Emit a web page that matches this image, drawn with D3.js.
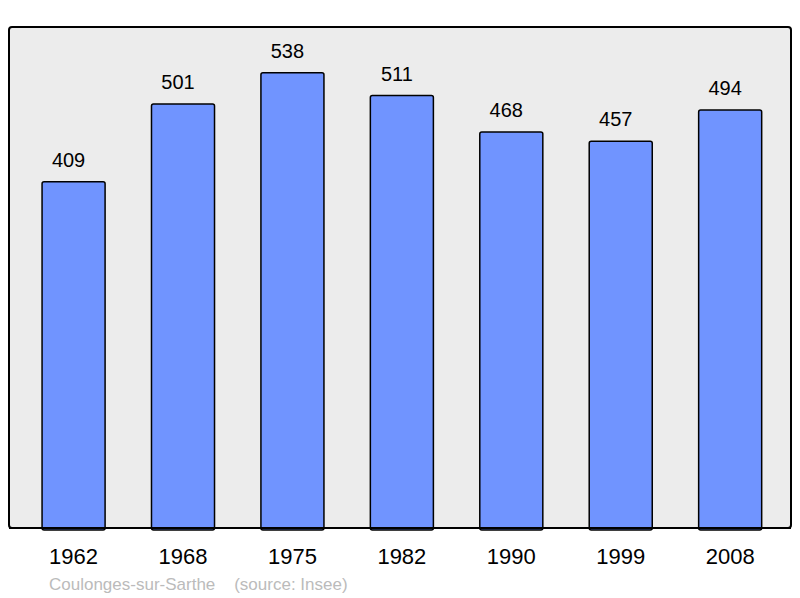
<!DOCTYPE html>
<html>
<head>
<meta charset="utf-8">
<script src="https://cdn.jsdelivr.net/npm/d3@7"></script>
<style>
  body { margin: 0; background: #fff; }
  text { font-family: "Liberation Sans", Arial, sans-serif; }
</style>
</head>
<body>
<script>
// Population data
var years = ["1962", "1968", "1975", "1982", "1990", "1999", "2008"];
var population = [409, 501, 538, 511, 468, 457, 494];
var commune = "Coulonges-sur-Sarthe";
var source = "(source: Insee)";

var width = 800, height = 598;
var frame = {left: 9, top: 27, right: 791, bottom: 528};

var svg = d3.select("body")
    .append("svg")
        .attr("width", width)
        .attr("height", height);

// Plot background / frame
svg.append("rect")
    .attr("x", frame.left)
    .attr("y", frame.top)
    .attr("width", frame.right - frame.left)
    .attr("height", frame.bottom - frame.top)
    .attr("rx", 3)
    .attr("fill", "#ececec")
    .attr("stroke", "#000")
    .attr("stroke-width", 2);

// Set the ranges
var xScale = d3.scaleBand()
    .domain(years)
    .range([frame.left, frame.right])
    .paddingInner(0.424)
    .paddingOuter(0.285)
    .align(0.53);

var yScale = d3.scaleLinear()
    .domain([0, 592])
    .range([frame.bottom, frame.top]);

var data = years.map(function (y, i) { return {year: y, value: population[i]}; });

// Bars
svg.selectAll(".bar")
    .data(data)
    .enter().append("rect")
    .attr("class", "bar")
    .attr("x", function (d) { return xScale(d.year); })
    .attr("y", function (d) { return yScale(d.value); })
    .attr("width", xScale.bandwidth())
    .attr("height", function (d) { return frame.bottom - yScale(d.value) + 2; })
    .attr("rx", 2)
    .attr("fill", "#7094ff")
    .attr("stroke", "#000")
    .attr("stroke-width", 1.5);

// redraw bottom frame line over the bars
svg.append("line")
    .attr("x1", frame.left)
    .attr("x2", frame.right)
    .attr("y1", frame.bottom)
    .attr("y2", frame.bottom)
    .attr("stroke", "#000")
    .attr("stroke-width", 2);

// Value labels (sit a little left of bar centre, as in the original)
svg.selectAll(".value")
    .data(data)
    .enter().append("text")
    .attr("class", "value")
    .attr("x", function (d) { return xScale(d.year) + xScale.bandwidth() / 2 - 5; })
    .attr("y", function (d) { return yScale(d.value) - 15; })
    .attr("text-anchor", "middle")
    .attr("font-size", "20px")
    .attr("fill", "#000")
    .text(function (d) { return d.value; });

// X axis labels
var xAxis = svg.append("g")
    .attr("transform", "translate(0," + frame.bottom + ")")
    .call(d3.axisBottom(xScale).tickSize(0).tickPadding(0));
xAxis.select(".domain").remove();
xAxis.selectAll("text")
    .attr("dy", null)
    .attr("y", 36)
    .attr("font-size", "22px")
    .attr("font-family", "Liberation Sans, Arial, sans-serif")
    .attr("fill", "#000");

// Footer
svg.append("text")
    .attr("x", 49)
    .attr("y", 590)
    .attr("font-size", "17px")
    .attr("fill", "#bbbbbb")
    .attr("xml:space", "preserve")
    .text(commune + "    " + source);
</script>
</body>
</html>
